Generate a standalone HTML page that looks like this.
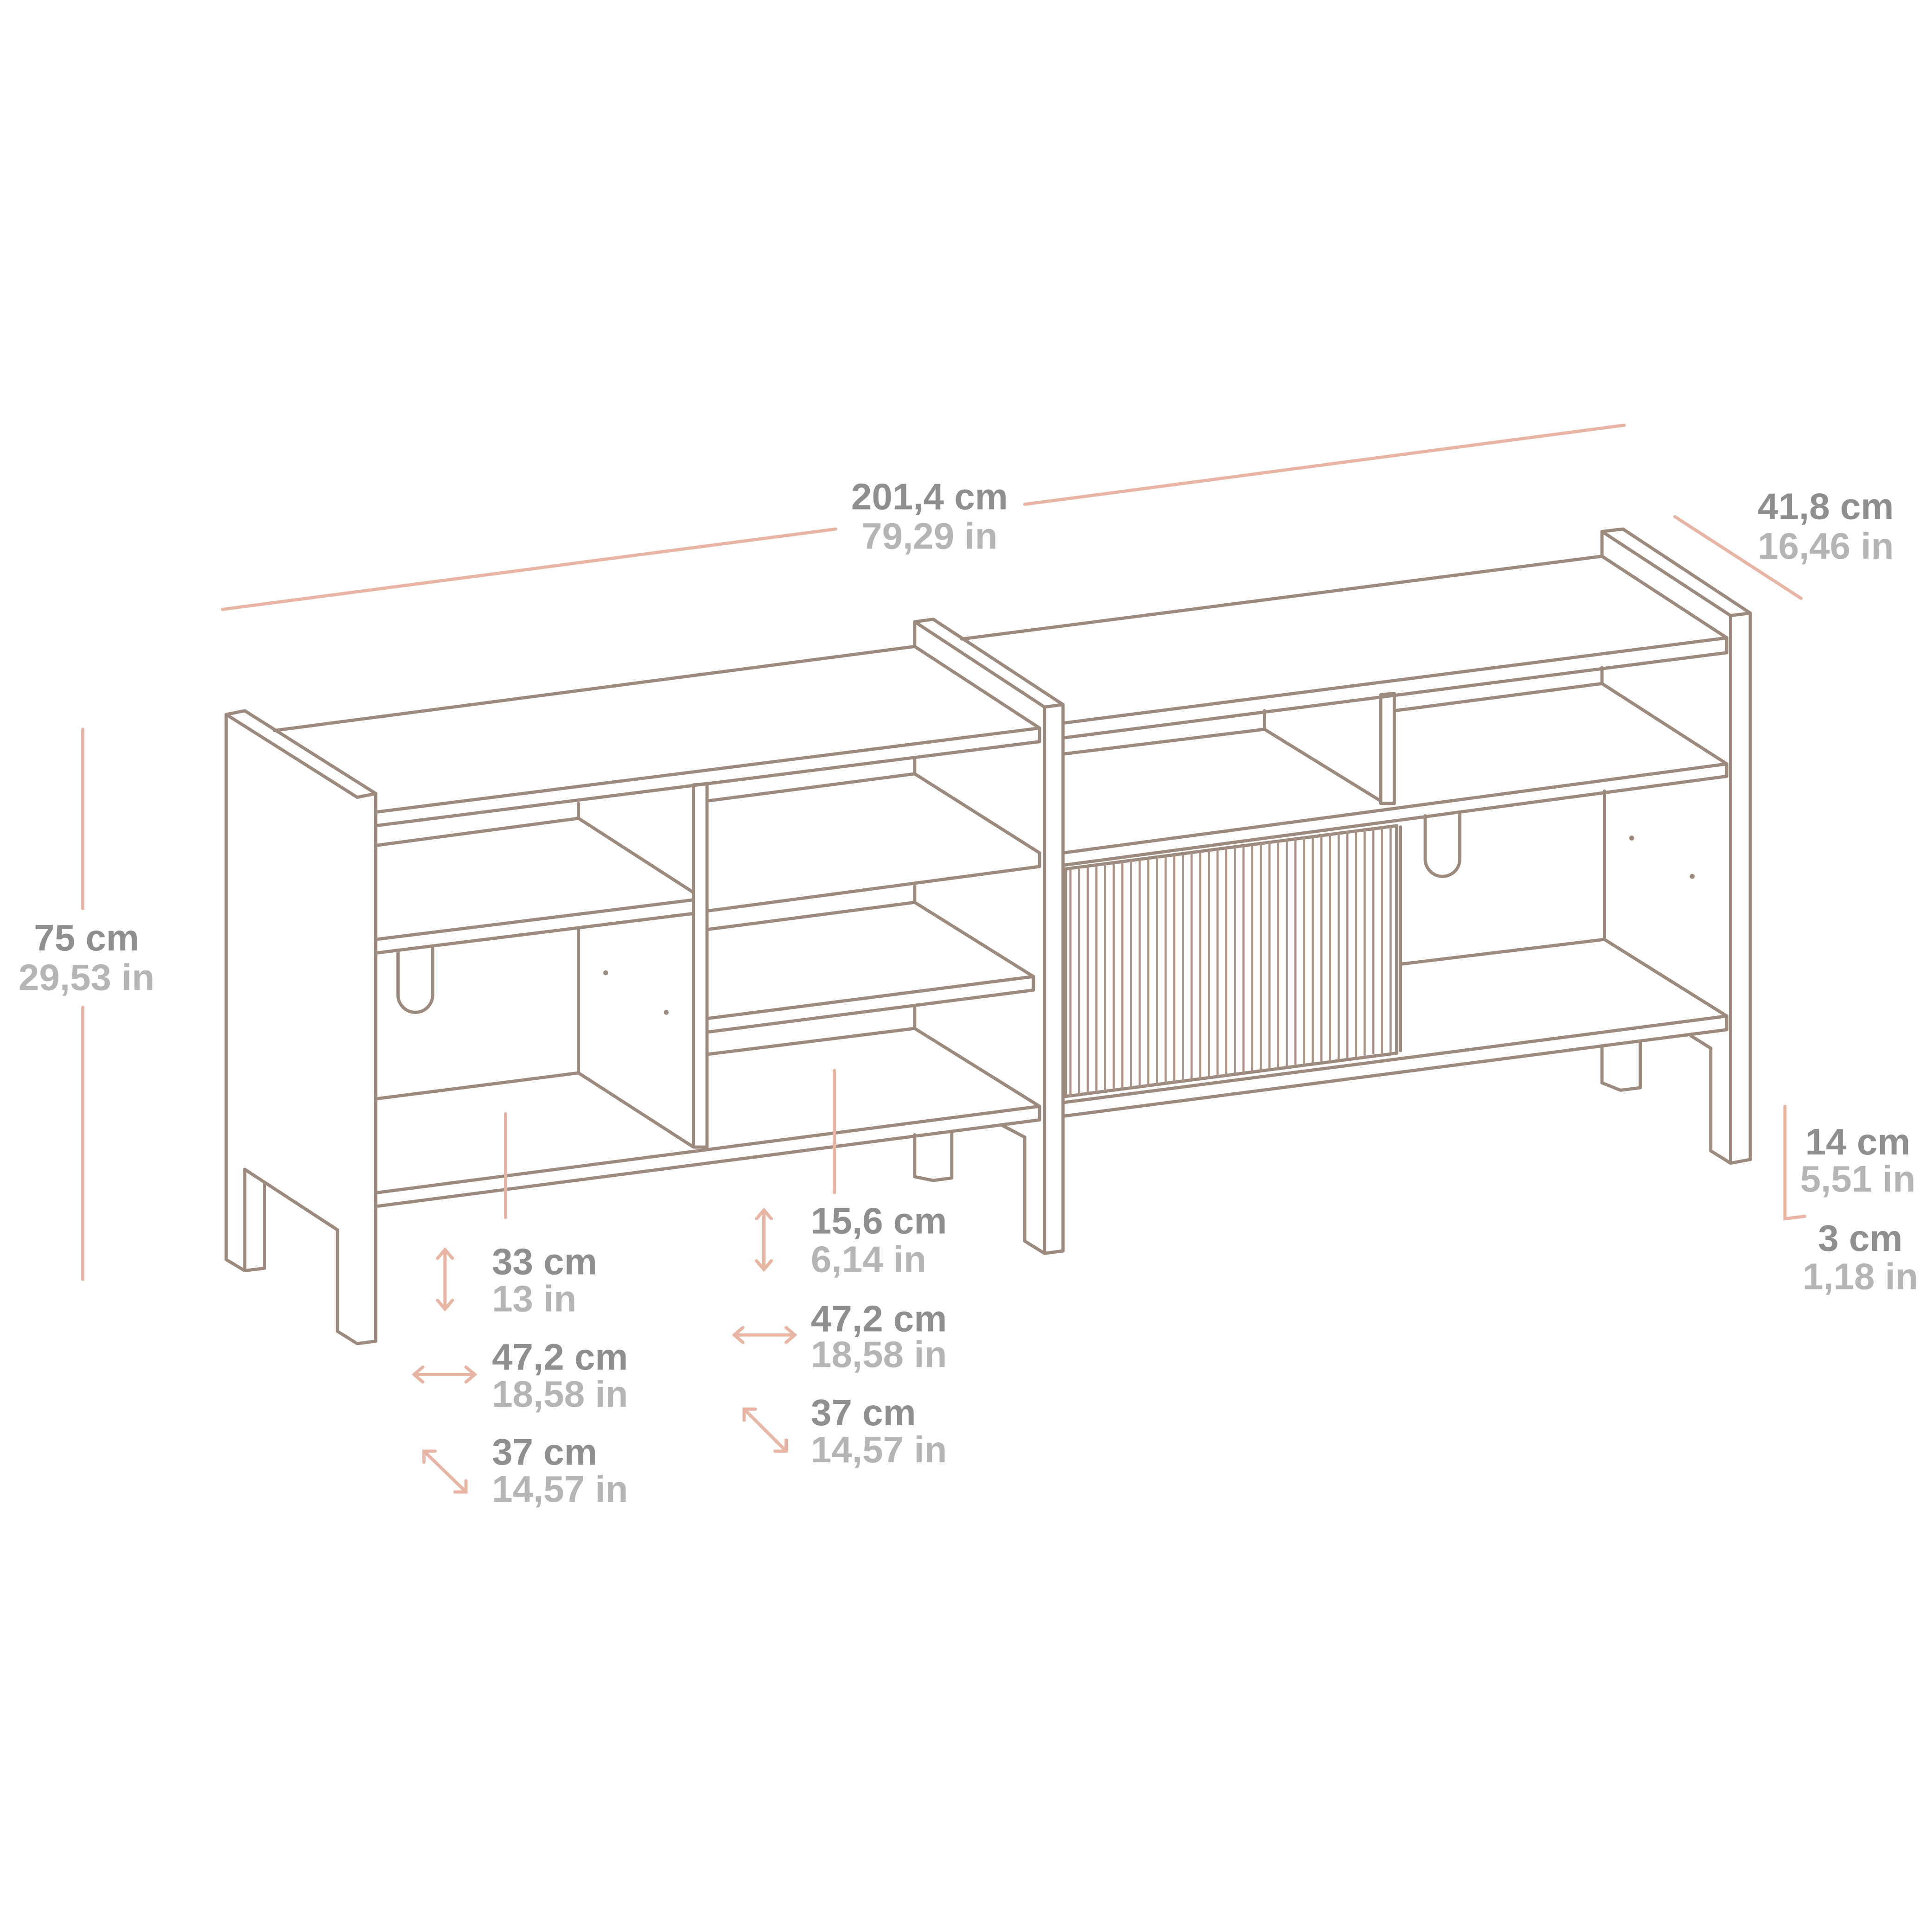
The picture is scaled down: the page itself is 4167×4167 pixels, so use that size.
<!DOCTYPE html>
<html><head><meta charset="utf-8"><style>html,body{margin:0;padding:0;background:#fff}svg{display:block}</style></head>
<body>
<svg width="4167" height="4167" viewBox="0 0 1563 1563" xmlns="http://www.w3.org/2000/svg">
<g fill="none" stroke="#9c8a7e" stroke-width="2.6" stroke-linejoin="round" stroke-linecap="round">
<path d="M183,578 L198,575 L304,642 L304,1085 L289,1087 L273,1077 L273,995 L198,946 L198,1028 L214,1026 L214,957 M198,1028 L183,1019 Z"/>
<path d="M183,578 L289,645 L304,642 M183,578 L183,1019"/>
<path d="M222,591 L740,523"/>
<path d="M304,657 L841,589 L841,600 L304,668"/>
<path d="M304,684 L468,662 M572,648 L740,626 L841,690 L841,701 L572,737"/>
<path d="M304,760 L561,728 M304,771 L561,739"/>
<path d="M468,650 L468,662 L561,722 M468,752 L468,868 L561,928"/>
<path d="M561,635 L572,634 L572,928 L561,928 Z"/>
<path d="M572,648 L572,635 M740,613 L740,626"/>
<path d="M572,752 L740,730 L836,790 L836,801 L572,835 M572,824 L836,790"/>
<path d="M740,717 L740,730 M572,853 L740,832 L841,895 L841,906 L304,976 M304,965 L841,895 M740,815 L740,832"/>
<path d="M304,889 L468,868"/>
<path d="M740,503 L755,501 L860,570 L860,1012 L845,1014 L829,1004 L829,920 L810,910 M740,503 L740,523 L841,589 M740,503 L845,572 L860,570 M845,572 L845,1014"/>
<path d="M740,918 L740,952 L755,955 L770,953 L770,916"/>
<path d="M322,770 L322,805 A14,14 0 0 0 350,805 L350,767"/>
<path d="M778,517 L1296,450"/>
<path d="M860,585 L1397,516 L1397,528 L860,597"/>
<path d="M860,610 L1023,590 L1023,575 M1023,590 L1117,648 M1128,575 L1296,553 L1397,618 L1397,628 L860,700 M860,690 L1397,618 M1296,540 L1296,553"/>
<path d="M1117,562 L1128,561 L1128,650 L1117,650 Z"/>
<path d="M1133,669 L1133,850 M1133,780 L1298,760 L1397,822 L1397,833 L860,903 M860,892 L1397,822 M1298,640 L1298,760"/>
<path d="M1153,660 L1153,695 A14,14 0 0 0 1181,695 L1181,657"/>
<path d="M1296,430 L1313,428 L1416,496 L1416,938 L1400,941 L1384,931 L1384,848 L1368,838 M1296,430 L1296,450 L1397,516 M1296,430 L1400,498 L1416,496 M1400,498 L1400,941"/>
<path d="M1296,846 L1296,876 L1311,882 L1327,880 L1327,843"/>
<path d="M862,703 L1130,668 L1130,852 L862,887 Z"/>
</g>
<g stroke="#a89386" stroke-width="1.8">
<path d="M866,703V887M873,702V886M880,701V885M887,700V884M894,699V883M901,698V882M908,697V881M915,696V880M922,695V879M929,695V879M936,694V878M943,693V877M950,692V876M957,691V875M964,690V874M971,689V873M978,688V872M985,687V871M992,686V870M999,685V869M1006,684V868M1013,683V867M1020,682V866M1027,681V865M1034,680V864M1041,679V863M1048,678V862M1055,677V861M1062,676V860M1069,675V859M1076,674V858M1083,673V857M1090,672V856M1097,671V855M1104,670V854M1111,669V853M1118,668V852M1125,668V852"/>
</g>
<g fill="#9c8a7e"><circle cx="490" cy="787" r="2"/><circle cx="539" cy="819" r="2"/><circle cx="1320" cy="678" r="2"/><circle cx="1369" cy="709" r="2"/></g>
<g fill="none" stroke="#e8b4a4" stroke-width="2.6" stroke-linecap="round">
<path d="M180,493L676,428M829,408L1314,344M1355,418L1457,484M67,590V735M67,815V1035M1444,895V986L1460,984M409,901V985M675,866V965"/>
<path d="M360,1011V1059M354,1018L360,1011L366,1018M354,1052L360,1059L366,1052"/>
<path d="M335,1112H384M342,1106L335,1112L342,1118M377,1106L384,1112L377,1118"/>
<path d="M343,1174L377,1207M343,1183V1174H352M368,1207H377V1198"/>
<path d="M618,979V1027M612,986L618,979L624,986M612,1020L618,1027L624,1020"/>
<path d="M594,1080H643M601,1074L594,1080L601,1086M636,1074L643,1080L636,1086"/>
<path d="M602,1140L636,1174M602,1149V1140H611M627,1174H636V1165"/>
</g>
<g font-family="Liberation Sans, sans-serif" font-weight="bold" font-size="30">
<g fill="#8f8f8f">
<text x="752" y="412" text-anchor="middle">201,4 cm</text>
<text x="1477" y="420" text-anchor="middle">41,8 cm</text>
<text x="70" y="769" text-anchor="middle">75 cm</text>
<text x="1503" y="934" text-anchor="middle">14 cm</text>
<text x="1505" y="1012" text-anchor="middle">3 cm</text>
<text x="398" y="1031">33 cm</text>
<text x="398" y="1108">47,2 cm</text>
<text x="398" y="1185">37 cm</text>
<text x="656" y="998">15,6 cm</text>
<text x="656" y="1077">47,2 cm</text>
<text x="656" y="1153">37 cm</text>
</g>
<g fill="#b5b5b5">
<text x="752" y="444" text-anchor="middle">79,29 in</text>
<text x="1477" y="452" text-anchor="middle">16,46 in</text>
<text x="70" y="801" text-anchor="middle">29,53 in</text>
<text x="1503" y="964" text-anchor="middle">5,51 in</text>
<text x="1505" y="1043" text-anchor="middle">1,18 in</text>
<text x="398" y="1061">13 in</text>
<text x="398" y="1138">18,58 in</text>
<text x="398" y="1215">14,57 in</text>
<text x="656" y="1029">6,14 in</text>
<text x="656" y="1106">18,58 in</text>
<text x="656" y="1183">14,57 in</text>
</g>
</g>
</svg>
</body></html>
